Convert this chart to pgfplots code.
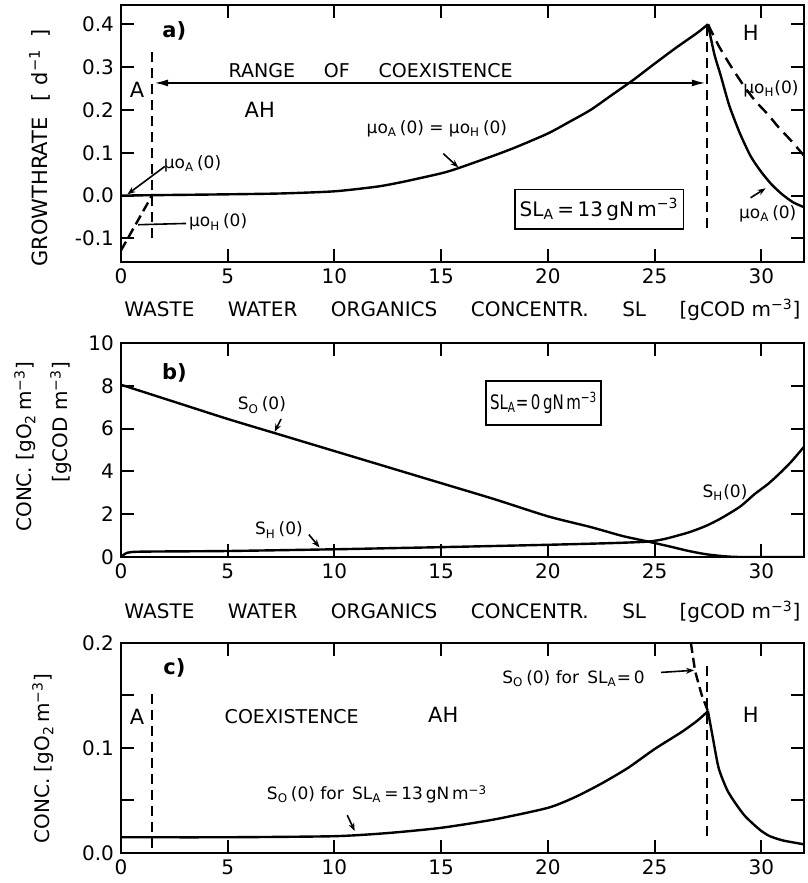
\documentclass[border=0pt]{standalone}
\usepackage{pgfplots}
\pgfplotsset{compat=1.18}
\usepackage{fontspec}
\setmainfont{DejaVu Sans}
\usetikzlibrary{arrows.meta}
\newcommand{\sub}[1]{\textsubscript{#1}}
\newcommand{\sups}[1]{\textsuperscript{#1}}
\newcommand{\xlab}{\makebox[338pt][s]{WASTE\hfill WATER\hfill ORGANICS\hfill CONCENTR.\hfill SL\hfill [gCOD m\sups{−3}]}}
\pgfplotsset{
  base/.style={
    scale only axis, width=341.5pt, xmin=0, xmax=32,
    xtick={0,5,...,30},
    xtick pos=both, ytick pos=both,
    tick align=inside, major tick length=6.5pt,
    axis line style={line width=1.2pt},
    major tick style={line width=1pt, draw=black},
    tick label style={font=\fontsize{10}{11}\selectfont},
    label style={font=\fontsize{10}{16}\selectfont},
    /pgf/number format/assume math mode=true,
    every axis plot/.append style={line width=1.2pt, black},
  },
}
\tikzset{
  mu/.style={font=\fontsize{8.5}{10}\selectfont},
  lead/.style={line width=0.8pt, -{Stealth[length=4pt,width=3pt]}},
  vdash/.style={line width=0.9pt, dash pattern=on 5pt off 3pt},
  big/.style={font=\fontsize{10.5}{12}\selectfont},
  bigb/.style={font=\bfseries\fontsize{10.5}{12}\selectfont},
  tk/.style={line width=1pt, black},
}
% tick marks drawn on all four sides: #1 = relative tick length in y for x ticks
\newcommand{\xticksall}[1]{%
  \pgfplotsinvokeforeach{0.15625,0.3125,0.46875,0.625,0.78125,0.9375}{%
    \draw[tk] (rel axis cs:##1,0) -- (rel axis cs:##1,#1);
    \draw[tk] (rel axis cs:##1,1) -- (rel axis cs:##1,1-#1);
  }%
}
\pgfplotstableread{
x y
0 0
1.5 0.001
5 0.003
7.5 0.005
10 0.010
12 0.021
13.2 0.032
15 0.052
15.8 0.064
17.5 0.094
18.5 0.113
20 0.145
21 0.172
22 0.200
23 0.235
24 0.270
25 0.308
26 0.345
27 0.380
27.5 0.400
}\muAH
\pgfplotstableread{
x y
27.5 0.400
27.8 0.330
28.1 0.280
28.5 0.210
29.0 0.145
29.5 0.092
30.0 0.055
30.5 0.025
31.0 0.002
31.5 -0.016
32 -0.027
}\muAright
\pgfplotstableread{
x y
27.5 0.40
28.0 0.35
28.6 0.30
29.2 0.255
29.7 0.222
30.3 0.19
30.8 0.16
31.4 0.128
32 0.093
}\muHright
\pgfplotstableread{
x y
0 -0.128
1.45 0.0
}\muHleft
\pgfplotstableread{
x y
0 8.05
2.5 7.25
5 6.45
7.5 5.7
10 4.95
12.5 4.2
15 3.45
17.5 2.7
20 1.9
22 1.4
23.5 0.98
24.7 0.72
25.8 0.47
26.6 0.28
27.4 0.13
28.2 0.04
29 0.0
32 0.0
}\SO
\pgfplotstableread{
x y
0 0.0
0.3 0.2
1 0.25
5 0.28
10 0.36
13 0.42
15 0.46
20 0.57
23 0.65
24.7 0.72
25.5 0.85
26.6 1.15
27.4 1.45
28.1 1.8
29 2.35
29.7 2.95
30.3 3.4
30.8 3.85
31.4 4.45
32 5.15
}\SH
\pgfplotstableread{
x y
0 0.015
5 0.015
10 0.016
12.5 0.019
15 0.024
17.5 0.032
20 0.043
21.25 0.053
22.5 0.066
23.75 0.081
25 0.099
26.25 0.115
27 0.126
27.5 0.135
}\SOc
\pgfplotstableread{
x y
27.5 0.135
27.7 0.113
28.0 0.081
28.4 0.060
28.8 0.047
29.2 0.036
29.6 0.028
30.0 0.021
30.4 0.016
31.0 0.012
31.9 0.0086
32 0.008
}\SOcright
\pgfplotstableread{
x y
26.7 0.2
26.9 0.173
27.2 0.151
27.5 0.135
}\SOzero
\begin{document}
\begin{tikzpicture}
\useasboundingbox (0,0) rectangle (404pt,441.5pt);
% ---------------- panel a
\begin{axis}[base, at={(60.5pt,310.5pt)}, anchor=south west, height=128.5pt,
  ymin=-0.155, ymax=0.445, ytick={-0.1,0,0.1,0.2,0.3,0.4},
  yticklabel style={/pgf/number format/.cd, fixed, fixed zerofill, precision=1},
  ylabel={GROWTHRATE\hspace{8pt}[\hspace{4pt}d\sups{−1}\hspace{6pt}]},
  ylabel style={at={(axis description cs:-0.1186,0.444)}, anchor=center, font=\fontsize{10.5}{12}\selectfont},
  xlabel={\xlab},
  xlabel style={at={(axis description cs:0.5,0)}, anchor=center, yshift=-24pt},
]
\addplot[smooth, tension=0.4] table {\muAH};
\addplot[smooth, tension=0.4] table {\muAright};
\addplot[smooth, tension=0.4, dash pattern=on 6pt off 3.5pt] table {\muHright};
\addplot[dash pattern=on 5pt off 2.5pt] table {\muHleft};
\xticksall{0.0506}
\pgfplotsinvokeforeach{0.09167,0.25833,0.425,0.59167,0.75833,0.925}{
  \draw[tk] (rel axis cs:0,#1) -- (rel axis cs:0.019,#1);
  \draw[tk] (rel axis cs:1,#1) -- (rel axis cs:0.981,#1);
}
\draw[vdash] (axis cs:1.45,-0.1) -- (axis cs:1.45,0.344);
\draw[vdash] (axis cs:27.45,-0.075) -- (axis cs:27.45,0.40);
\draw[line width=1pt, {Latex[length=7pt,width=3.5pt]}-{Latex[length=7pt,width=3.5pt]}] (axis cs:1.55,0.263) -- (axis cs:27.4,0.263);
\node[font=\fontsize{9.5}{11}\selectfont] at (axis cs:11.7,0.293) {\makebox[142pt][s]{RANGE\hfill OF\hfill COEXISTENCE}};
\node[bigb] at (axis cs:2.5,0.385) {a)};
\node[big] at (axis cs:0.75,0.246) {A};
\node[big] at (axis cs:6.5,0.2) {AH};
\node[big] at (axis cs:29.5,0.38) {H};
\node[mu] at (axis cs:3.35,0.075) {μo\sub{A}\,(0)};
\draw[lead] (axis cs:2.05,0.068) -- (axis cs:0.3,0.003);
\node[mu] at (axis cs:4.55,-0.062) {μo\sub{H}\,(0)};
\draw[line width=0.8pt] (axis cs:3.05,-0.065) -- (axis cs:0.8,-0.068);
\node[mu] at (axis cs:14.8,0.157) {μo\sub{A}\,(0) = μo\sub{H}\,(0)};
\draw[lead] (axis cs:15.1,0.098) -- (axis cs:15.8,0.066);
\node[draw, line width=0.8pt, inner xsep=2.5pt, inner ysep=4.5pt, font=\fontsize{10}{12}\selectfont] at (axis cs:22.4,-0.032) {SL\sub{A}\,=\,13\,gN\,m\sups{−3}};
\node[mu] at (axis cs:30.45,0.25) {μo\sub{H}(0)};
\node[mu] at (axis cs:30.3,-0.043) {μo\sub{A}\,(0)};
\draw[lead] (axis cs:29.5,-0.005) -- (axis cs:30.2,0.017);
\end{axis}
% ---------------- panel b
\begin{axis}[base, at={(60.5pt,163pt)}, anchor=south west, height=107pt,
  ymin=0, ymax=10, ytick={0,2,...,10},
  ylabel={\begin{tabular}{@{}r@{}}CONC.\ [gO\sub{2}\,m\sups{−3}]\\[2pt] [gCOD m\sups{−3}]\end{tabular}},
  ylabel style={at={(axis description cs:-0.1135,0.515)}, anchor=center},
  xlabel={\xlab},
  xlabel style={at={(axis description cs:0.5,0)}, anchor=center, yshift=-27.5pt},
]
\addplot[smooth, tension=0.4] table {\SO};
\addplot[smooth, tension=0.4] table {\SH};
\xticksall{0.0607}
\pgfplotsinvokeforeach{0.2,0.4,0.6,0.8}{
  \draw[tk] (rel axis cs:0,#1) -- (rel axis cs:0.019,#1);
  \draw[tk] (rel axis cs:1,#1) -- (rel axis cs:0.981,#1);
}
\node[bigb] at (axis cs:2.5,8.6) {b)};
\node[mu] at (axis cs:6.6,7.1) {S\sub{O}\,(0)};
\draw[lead] (axis cs:7.5,6.45) -- (axis cs:7.2,5.85);
\node[mu] at (axis cs:7.4,1.26) {S\sub{H}\,(0)};
\draw[lead] (axis cs:8.8,1.05) -- (axis cs:9.3,0.45);
\node[draw, line width=0.8pt, inner xsep=2pt, inner ysep=5.5pt, font=\fontsize{10}{11}\selectfont] at (axis cs:19.8,7.2) {\scalebox{0.75}[1]{SL\sub{A}=\,0\,gN\,m\sups{−3}}};
\node[mu] at (axis cs:28.3,3.0) {S\sub{H}(0)};
\end{axis}
% ---------------- panel c
\begin{axis}[base, at={(60.5pt,15pt)}, anchor=south west, height=105pt,
  ymin=0, ymax=0.2, ytick={0,0.05,...,0.2},
  yticklabels={0.0,,0.1,,0.2},
  ylabel={CONC.\ [gO\sub{2}\,m\sups{−3}]},
  ylabel style={at={(axis description cs:-0.114,0.45)}, anchor=center},
]
\addplot[smooth, tension=0.4] table {\SOc};
\addplot[smooth, tension=0.4] table {\SOcright};
\addplot[dash pattern=on 5pt off 2.5pt] table {\SOzero};
\xticksall{0.0619}
\pgfplotsinvokeforeach{0.25,0.5,0.75}{
  \draw[tk] (rel axis cs:0,#1) -- (rel axis cs:0.019,#1);
  \draw[tk] (rel axis cs:1,#1) -- (rel axis cs:0.981,#1);
}
\draw[vdash] (axis cs:1.45,0.005) -- (axis cs:1.45,0.157);
\draw[vdash] (axis cs:27.45,0.016) -- (axis cs:27.45,0.178);
\node[bigb] at (axis cs:2.5,0.176) {c)};
\node[big] at (axis cs:0.75,0.13) {A};
\node[font=\fontsize{9.5}{11}\selectfont] at (axis cs:8.0,0.13) {COEXISTENCE};
\node[big] at (axis cs:15.1,0.132) {AH};
\node[big] at (axis cs:29.5,0.132) {H};
\node[mu] at (axis cs:12.0,0.056) {S\sub{O}\,(0) for\, SL\sub{A}\,=\,13\,gN\,m\sups{−3}};
\draw[lead] (axis cs:10.6,0.036) -- (axis cs:10.95,0.021);
\node[mu] at (axis cs:21.2,0.166) {S\sub{O}\,(0) for\, SL\sub{A}=\,0};
\draw[lead] (axis cs:25.3,0.172) -- (axis cs:26.85,0.174);
\end{axis}
\end{tikzpicture}
\end{document}
